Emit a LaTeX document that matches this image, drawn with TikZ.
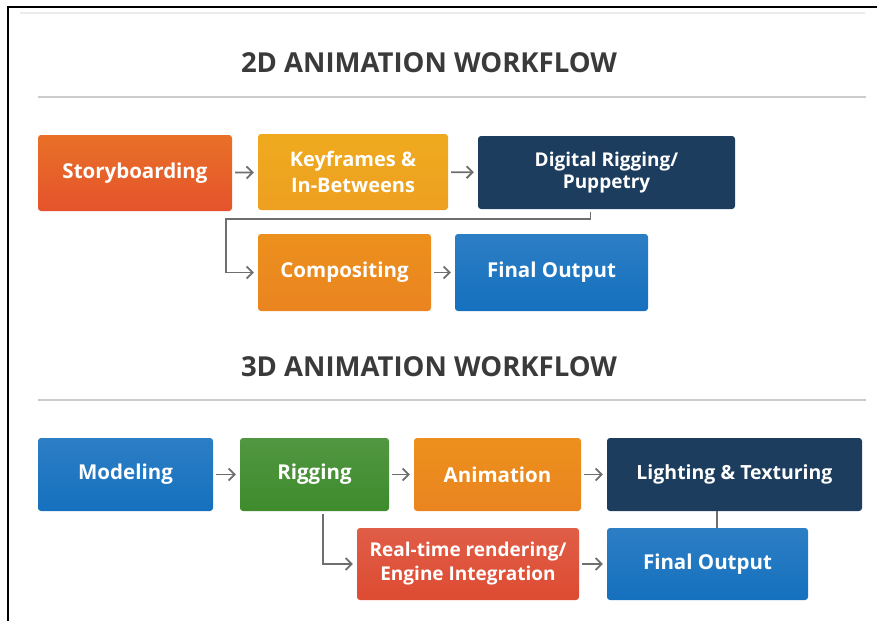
\documentclass[tikz,border=0pt]{standalone}
\usepackage{fontspec}
\setmainfont{Open Sans}
\usetikzlibrary{arrows.meta}
\definecolor{redorange}{HTML}{E4572E}
\definecolor{gold}{HTML}{EDA122}
\definecolor{navy}{HTML}{1C3D5E}
\definecolor{orangebox}{HTML}{EA8420}
\definecolor{bluebox}{HTML}{1570BE}
\definecolor{greenbox}{HTML}{3E8B2C}
\definecolor{redbox}{HTML}{DD4B32}
\definecolor{titlegray}{HTML}{3A3A3A}
\definecolor{flowgray}{HTML}{6E6E6E}
\tikzset{
  box/.style={rounded corners=3pt, text=white, align=center, inner sep=0pt,
    font=\bfseries\fontsize{20.5}{24}\selectfont},
  twoline/.style={font=\bfseries\fontsize{19}{24}\selectfont},
  flow/.style={-{Straight Barb[length=6pt,width=12pt,line width=1.8pt]}, flowgray, line width=1.8pt, shorten >=4pt, shorten <=3pt},
  link/.style={flowgray, line width=1.8pt},
  heading/.style={text=titlegray, font=\bfseries\fontsize{27.5}{30}\selectfont},
  rule/.style={gray!40, line width=1.2pt}
}
\begin{document}
\begin{tikzpicture}[x=1pt, y=-1pt]
    \useasboundingbox (0,0) rectangle (877,621);
    \draw[line width=2.5pt] (8,621)--(8,7)--(877,7);
    \draw[gray!15, line width=1.5pt] (20,13)--(865,13);
    \node[heading] (title2d) at (429,63) {2D ANIMATION WORKFLOW};
    \draw[rule] (38,97)--(866,97);
    \node[box, top color=redorange!85!yellow, bottom color=redorange!95!red, minimum width=194pt, minimum height=76pt] (story) at (135,173) {Storyboarding};
    \node[box, twoline, top color=gold!90!yellow, bottom color=gold!95!orange, minimum width=190pt, minimum height=76pt, font=\bfseries\fontsize{20}{26}\selectfont] (keys) at (353,172) {Keyframes \&\\In-Betweens};
    \node[box, twoline, fill=navy, minimum width=257pt, minimum height=73pt, font=\bfseries\fontsize{19}{22}\selectfont] (rigging2d) at (606.5,172.5) {Digital Rigging/\\Puppetry};
    \node[box, top color=orangebox!90!yellow, bottom color=orangebox, minimum width=173pt, minimum height=77pt] (comp) at (344.5,272.5) {Compositing};
    \node[box, top color=bluebox!90!white, bottom color=bluebox, minimum width=193pt, minimum height=77pt] (final2d) at (551.5,272.5) {Final Output};
    \coordinate (bend2d) at (226,219);
    \draw[flow] (story)--(keys);
    \draw[flow] (keys)--(rigging2d);
    \draw[flow] ([xshift=-16pt]rigging2d.south) |- (bend2d) |- (comp.west);
    \draw[flow] (comp)--(final2d);
    \node[heading] (title3d) at (429,367) {3D ANIMATION WORKFLOW};
    \draw[rule] (38,400)--(866,400);
    \node[box, top color=bluebox!90!white, bottom color=bluebox, minimum width=175pt, minimum height=73pt] (model) at (125.5,474.5) {Modeling};
    \node[box, top color=greenbox!90!white, bottom color=greenbox, minimum width=149pt, minimum height=73pt] (rigging3d) at (314.5,474.5) {Rigging};
    \node[box, top color=orangebox!90!yellow, bottom color=orangebox, minimum width=167pt, minimum height=73pt] (anim) at (497.5,474.5) {Animation};
    \node[box, fill=navy, minimum width=255pt, minimum height=73pt, font=\bfseries\fontsize{19.5}{24}\selectfont] (light) at (734.5,474.5) {Lighting \& Texturing};
    \node[box, twoline, top color=redbox!90!white, bottom color=redbox, minimum width=222pt, minimum height=72pt] (realtime) at (468,564) {Real-time rendering/\\Engine Integration};
    \node[box, top color=bluebox!90!white, bottom color=bluebox, minimum width=201pt, minimum height=72pt] (final3d) at (707.5,564) {Final Output};
    \draw[flow] (model)--(rigging3d);
    \draw[flow] (rigging3d)--(anim);
    \draw[flow] (anim)--(light);
    \draw[flow] ([xshift=8.5pt]rigging3d.south) |- (realtime.west);
    \draw[flow] (realtime)--(final3d);
    \draw[link] ([xshift=-17.5pt]light.south)--([xshift=9.5pt]final3d.north);
\end{tikzpicture}
\end{document}
